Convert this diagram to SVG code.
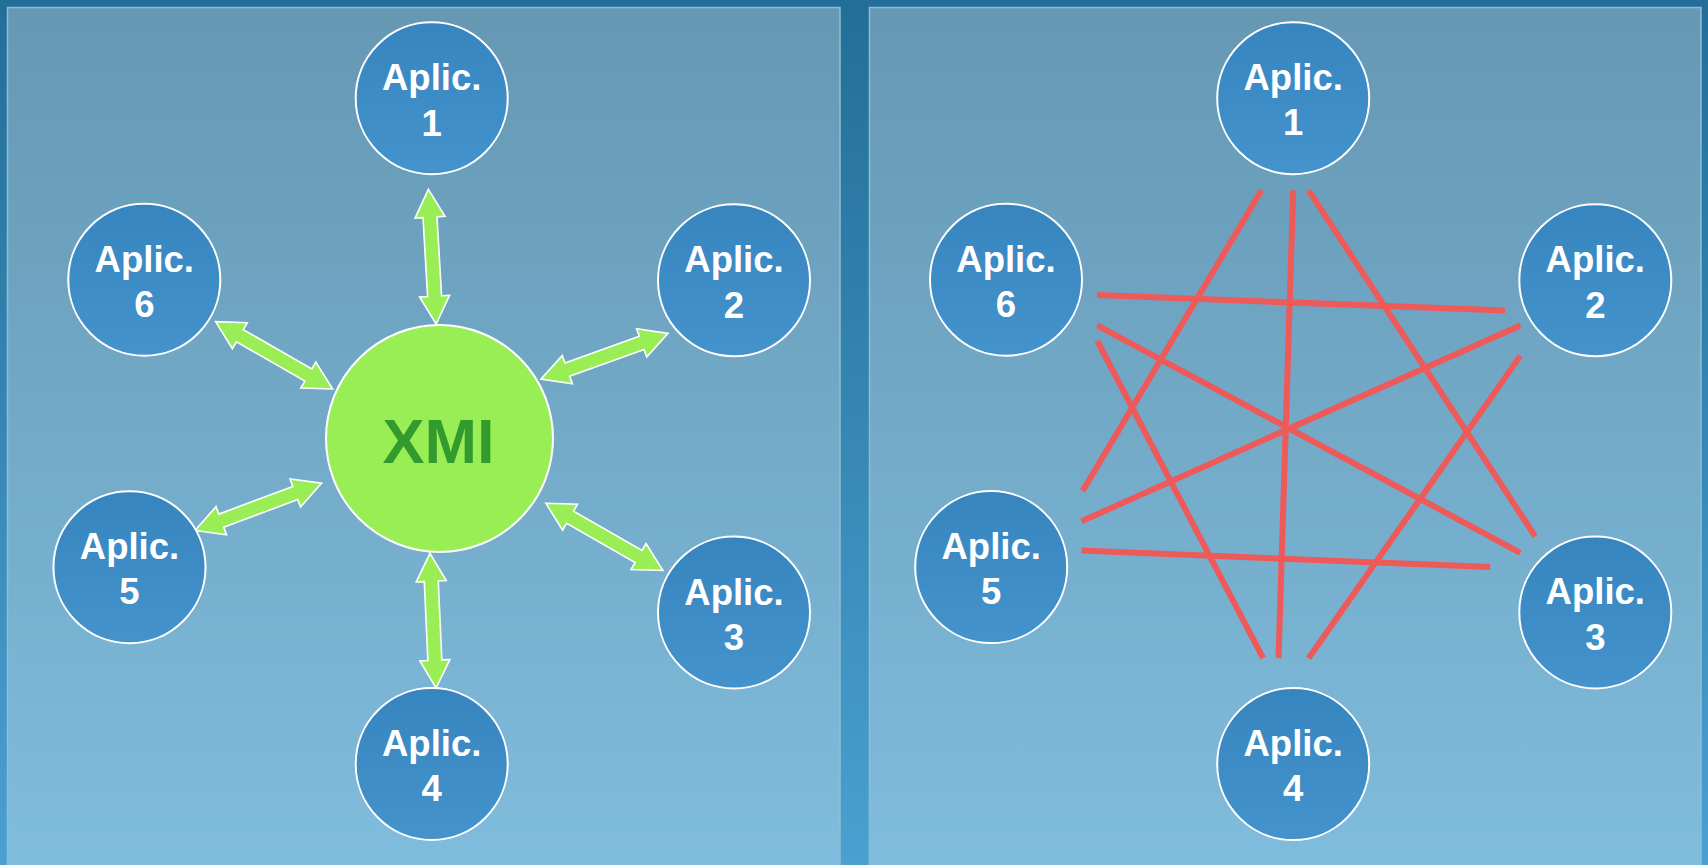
<svg xmlns="http://www.w3.org/2000/svg" xmlns:xlink="http://www.w3.org/1999/xlink" width="1708" height="865" viewBox="0 0 1708 865">
  <style>
    .app circle { fill: url(#nodeFill); stroke: #ffffff; stroke-width: 2; }
    .app text { font-family: "Liberation Sans", Arial, sans-serif; font-weight: bold; font-size: 36.5px; fill: #ffffff; text-anchor: middle; }
    .panel { fill: url(#panelFill); stroke: #8fbdd6; stroke-width: 1.5; }
    .link { stroke: #ee5a5a; stroke-width: 6; stroke-linecap: butt; fill: none; }
    .arrow { fill: #99ee55; stroke: #ffffff; stroke-width: 1.6; stroke-linejoin: miter; }
  </style>
  <defs>
    <linearGradient id="bgFill" x1="0" y1="0" x2="0" y2="1">
      <stop offset="0" stop-color="#236e98"/>
      <stop offset="1" stop-color="#4aa0d0"/>
    </linearGradient>
    <linearGradient id="panelFill" gradientUnits="userSpaceOnUse" x1="0" y1="7" x2="0" y2="865">
      <stop offset="0" stop-color="#6598b3"/>
      <stop offset="1" stop-color="#80bcdd"/>
    </linearGradient>
    <linearGradient id="nodeFill" x1="0" y1="0" x2="0" y2="1">
      <stop offset="0" stop-color="#3785bf"/>
      <stop offset="1" stop-color="#4593cd"/>
    </linearGradient>
    <!-- double-headed block arrow, 135 long, pointing along +x -->
    <path id="dblArrow" d="M0,0 L28,-15 L28,-7 L107,-7 L107,-15 L135,0 L107,15 L107,7 L28,7 L28,15 Z"/>
  </defs>

  <!-- backdrop and the two panels -->
  <rect x="0" y="0" width="1708" height="865" fill="url(#bgFill)"/>
  <rect class="panel" x="7.5" y="7.5" width="832.5" height="870"/>
  <rect class="panel" x="869.5" y="7.5" width="831.5" height="870"/>

  <!-- left: exchange through XMI -->
  <g id="xmi-connectors">
    <use xlink:href="#dblArrow" class="arrow" transform="translate(428.4,189.3) rotate(86.7)"/>
    <use xlink:href="#dblArrow" class="arrow" transform="translate(541,379.1) rotate(-19.8)"/>
    <use xlink:href="#dblArrow" class="arrow" transform="translate(545.8,503.2) rotate(29.9)"/>
    <use xlink:href="#dblArrow" class="arrow" transform="translate(430,553.3) rotate(87.4)"/>
    <use xlink:href="#dblArrow" class="arrow" transform="translate(321.5,483.2) rotate(159.5)"/>
    <use xlink:href="#dblArrow" class="arrow" transform="translate(332.6,389) rotate(-150.1)"/>
  </g>

  <g id="xmi">
    <circle cx="439.5" cy="438.5" r="113.5" fill="#99ee55" stroke="#ffffff" stroke-width="2"/>
    <text x="438.5" y="463" font-family="Liberation Sans, Arial, sans-serif" font-weight="bold" font-size="63" fill="#339a2e" text-anchor="middle">XMI</text>
  </g>

  <g id="left-app1" class="app">
    <circle cx="431.7" cy="98.2" r="76"/>
    <text x="431.7" y="90">Aplic.</text>
    <text x="431.7" y="135.5">1</text>
  </g>
  <g id="left-app2" class="app">
    <circle cx="734" cy="280.3" r="76"/>
    <text x="734" y="272.3">Aplic.</text>
    <text x="734" y="317.5">2</text>
  </g>
  <g id="left-app3" class="app">
    <circle cx="734" cy="612.5" r="76"/>
    <text x="734" y="604.5">Aplic.</text>
    <text x="734" y="649.7">3</text>
  </g>
  <g id="left-app4" class="app">
    <circle cx="431.7" cy="764" r="76"/>
    <text x="431.7" y="756">Aplic.</text>
    <text x="431.7" y="801.2">4</text>
  </g>
  <g id="left-app5" class="app">
    <circle cx="129.5" cy="567.2" r="76"/>
    <text x="129.5" y="559.2">Aplic.</text>
    <text x="129.5" y="604.4">5</text>
  </g>
  <g id="left-app6" class="app">
    <circle cx="144.3" cy="279.7" r="76"/>
    <text x="144.3" y="271.7">Aplic.</text>
    <text x="144.3" y="316.9">6</text>
  </g>

  <!-- right: point-to-point links -->
  <g id="p2p-connectors">
    <line class="link" x1="1261.5" y1="190.3" x2="1082.6" y2="491"/>
    <line class="link" x1="1293.2" y1="190.3" x2="1278.5" y2="658.2"/>
    <line class="link" x1="1308.6" y1="190.3" x2="1535.1" y2="536.3"/>
    <line class="link" x1="1097.3" y1="295.1" x2="1505" y2="310.5"/>
    <line class="link" x1="1097.3" y1="325.4" x2="1520.3" y2="552.8"/>
    <line class="link" x1="1097.3" y1="341" x2="1263.1" y2="658.2"/>
    <line class="link" x1="1520.3" y1="325.4" x2="1081.5" y2="521.3"/>
    <line class="link" x1="1520.3" y1="355.9" x2="1308.6" y2="658.2"/>
    <line class="link" x1="1081.5" y1="550.6" x2="1490.2" y2="567.1"/>
  </g>

  <g id="right-app1" class="app">
    <circle cx="1293.2" cy="98.2" r="76"/>
    <text x="1293.2" y="90.2">Aplic.</text>
    <text x="1293.2" y="135.4">1</text>
  </g>
  <g id="right-app2" class="app">
    <circle cx="1595.3" cy="280.3" r="76"/>
    <text x="1595.3" y="272.3">Aplic.</text>
    <text x="1595.3" y="317.5">2</text>
  </g>
  <g id="right-app3" class="app">
    <circle cx="1595.3" cy="612.4" r="76"/>
    <text x="1595.3" y="604.4">Aplic.</text>
    <text x="1595.3" y="649.6">3</text>
  </g>
  <g id="right-app4" class="app">
    <circle cx="1293.2" cy="764.1" r="76"/>
    <text x="1293.2" y="756.1">Aplic.</text>
    <text x="1293.2" y="801.3">4</text>
  </g>
  <g id="right-app5" class="app">
    <circle cx="991.2" cy="567.1" r="76"/>
    <text x="991.2" y="559.1">Aplic.</text>
    <text x="991.2" y="604.3">5</text>
  </g>
  <g id="right-app6" class="app">
    <circle cx="1006" cy="279.7" r="76"/>
    <text x="1006" y="271.7">Aplic.</text>
    <text x="1006" y="316.9">6</text>
  </g>
</svg>
